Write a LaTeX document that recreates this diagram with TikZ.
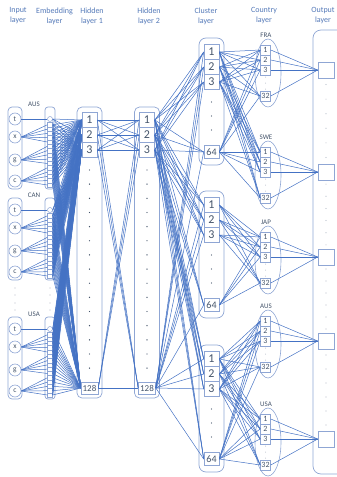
\documentclass[tikz,border=0pt]{standalone}
\usepackage{fontspec}
\setmainfont{Carlito}
\usetikzlibrary{positioning, shapes.geometric, calc}
\definecolor{wire}{HTML}{4472C4}
\definecolor{frame}{HTML}{8FA6D4}
\definecolor{ink}{HTML}{44546A}
\definecolor{caption}{HTML}{5479B8}
\definecolor{faint}{HTML}{B4BCC8}

\begin{document}
\begin{tikzpicture}[x=1pt, y=-1pt,
    wire/.style={draw=wire, line width=0.5pt},
    layerbox/.style={draw=frame, line width=0.7pt, rounded corners=5pt},
    unit/.style={draw=frame, line width=0.6pt, minimum width=15pt, minimum height=15pt,
      inner sep=0pt, text=ink, font=\fontsize{12}{12}\selectfont},
    lastunit/.style={unit, minimum width=17pt, minimum height=12pt, font=\fontsize{9}{9}\selectfont},
    clusterlast/.style={unit, minimum height=13pt, font=\fontsize{10}{10}\selectfont},
    small/.style={draw=frame, line width=0.6pt, minimum size=10pt, inner sep=0pt,
      text=ink, font=\fontsize{8}{8}\selectfont},
    inp/.style={circle, draw=frame, line width=0.6pt, minimum size=12pt, inner sep=0pt,
      text=ink, font=\fontsize{7.5}{7.5}\selectfont},
    embdot/.style={circle, draw=frame, line width=0.5pt, minimum size=5pt, inner sep=0pt},
    embunit/.style={draw=frame, line width=0.4pt, minimum width=5pt, minimum height=4.3pt, inner sep=0pt},
    outunit/.style={draw=frame, line width=0.6pt, minimum size=16pt, inner sep=0pt},
    head/.style={align=center, text=caption, font=\fontsize{8}{10}\selectfont},
    tag/.style={text=ink, font=\fontsize{7}{7}\selectfont},
  ]
  \useasboundingbox (0,0) rectangle (337,477);
  \clip (0,0) rectangle (337,477);

  % Layer titles
  \node[head] (t-in) at (18,16) {Input\\layer};
  \node[head] (t-emb) at (54.5,16) {Embedding\\layer};
  \node[head] (t-h1) at (92,16) {Hidden\\layer 1};
  \node[head] (t-h2) at (149,16) {Hidden\\layer 2};
  \node[head] (t-cl) at (206,16) {Cluster\\layer};
  \node[head] (t-ct) at (264,16) {Country\\layer};
  \node[head] (t-out) at (323,16) {Output\\layer};

  % Input and embedding layers, one group per country
  \foreach \grp/\gy in {AUS/107, CAN/198, USA/317} {
    \draw[layerbox, rounded corners=4pt] (8,\gy) rectangle (22,\gy+82);
    \draw[layerbox, rounded corners=3pt] (45,\gy) rectangle (55,\gy+82);
    \node[tag] (lab-\grp) at (34,\gy-3) {\grp};
    \foreach \v/\dy in {t/12, x/30, g/53, c/74}
      \node[inp] (in-\grp-\v) at (15,\gy+\dy) {\v};
    \node[embdot] (emb-\grp-0) at (50,\gy+12) {};
    \foreach \k in {1,...,15}
      \node[embunit] (emb-\grp-\k) at (50,\gy+13.5+\k*4.3) {};
  }
  \foreach \x in {15, 50}
    \foreach \y in {288, 295, 303, 310}
      \fill[faint] (\x,\y) circle (0.6pt);

  % Hidden layers
  \foreach \h/\hx in {h1/89.5, h2/147} {
    \draw[layerbox] (\hx-12.5,107) rectangle (\hx+12.5,398);
    \foreach \n/\ny in {1/120, 2/135, 3/150}
      \node[unit] (\h-\n) at (\hx,\ny) {\n};
    \node[lastunit] (\h-128) at (\hx,388) {128};
    \foreach \i in {0,...,14}
      \fill[ink] (\hx,170+\i*14.15) circle (0.7pt);
  }

  % Cluster layer
  \foreach \c/\cy in {1/38, 2/191, 3/345} {
    \draw[layerbox, rounded corners=7pt] (199,\cy) rectangle (224,\cy+127);
    \foreach \n/\dy in {1/14, 2/29, 3/44}
      \node[unit] (cl\c-\n) at (211.5,\cy+\dy) {\n};
    \node[clusterlast] (cl\c-64) at (211.5,\cy+114) {64};
    \foreach \dy in {64, 78, 92}
      \fill[ink] (211.5,\cy+\dy) circle (0.7pt);
  }

  % Output layer
  \draw[layerbox, rounded corners=8pt] (313,30) rectangle (352,474);
  \foreach \a/\b in {70/172, 172/257, 257/341, 341/439}
    \foreach \i in {1,...,6}
      \fill[faint] (326,{\a+(\b-\a)*\i/7}) circle (0.6pt);

  % Country layer
  \foreach \cn/\fy in {FRA/50, SWE/152, JAP/237, AUS/321, USA/419} {
    \draw[frame, line width=0.6pt] (268,\fy+23) ellipse (13pt and 34pt);
    \node[tag] (lab-ct-\cn) at (266,\fy-15) {\cn};
    \foreach \n/\dy in {1/0, 2/10, 3/20, 32/46}
      \node[small] (ct-\cn-\n) at (265.5,\fy+\dy) {\n};
    \foreach \dy in {27, 33, 39}
      \fill[faint] (265.5,\fy+\dy) circle (0.5pt);
    \node[outunit] (out-\cn) at (326,\fy+20) {};
  }

  % Connections
  \foreach \grp in {AUS, CAN, USA} {
    \draw[wire] (in-\grp-t.east) -- (emb-\grp-0.west);
    \foreach \v/\a/\b in {x/1/5, g/6/10, c/11/15}
      \foreach \k in {\a,...,\b}
        \draw[wire] (in-\grp-\v.east) -- (emb-\grp-\k.west);
    \foreach \k in {0,...,15}
      \foreach \n in {1,2,3,128}
        \draw[wire] (emb-\grp-\k.east) -- (h1-\n.west);
  }
  \foreach \m in {1,2,3,128}
    \foreach \n in {1,2,3,128}
      \draw[wire] (h1-\m.east) -- (h2-\n.west);
  \foreach \m in {1,2,3,128}
    \foreach \c in {1,2,3}
      \foreach \n in {1,2,3,64}
        \draw[wire] (h2-\m.east) -- (cl\c-\n.west);
  \foreach \cn/\c in {FRA/1, SWE/1, JAP/2, AUS/3, USA/3} {
    \foreach \m in {1,2,3,64}
      \foreach \n in {1,2,3,32}
        \draw[wire] (cl\c-\m.east) -- (ct-\cn-\n.west);
    \foreach \n in {1,2,3,32}
      \draw[wire] (ct-\cn-\n.east) -- (out-\cn.west);
  }
\end{tikzpicture}
\end{document}
